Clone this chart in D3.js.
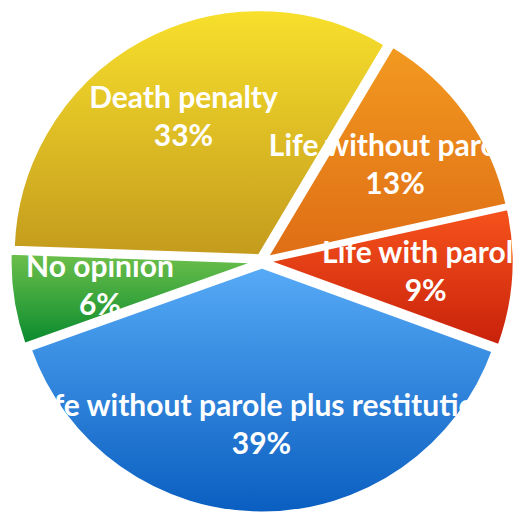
<!DOCTYPE html>
<html>
<head>
<meta charset="utf-8">
<script src="https://cdn.jsdelivr.net/npm/d3@7"></script>
<style>
  body { margin: 0; background: #fff; }
  svg { display: block; }
  .label { font-family: Lato, "Open Sans", sans-serif; font-weight: 700; fill: #fff; }
</style>
</head>
<body>
<svg></svg>
<script>
var categories = ["Death penalty", "Life without parole", "Life with parole",
                  "Life without parole plus restitution", "No opinion"];
var values = [33, 13, 9, 39, 6];
var topColors = ["#f8e02c", "#f29a20", "#f6531c", "#56aaf6", "#6dc04b"];
var bottomColors = ["#c49b1d", "#df6d15", "#c8210b", "#0a5ec0", "#088a2e"];

var width = 518, height = 512;
var cx = 262, cy = 261, radius = 246, explode = 6;

var svg = d3.select("svg")
    .attr("width", width)
    .attr("height", height);

var pie = d3.pie()
    .sort(null)
    .startAngle(-88 * Math.PI / 180)
    .endAngle(272 * Math.PI / 180)
    .value(function(d) { return d; });

var arc = d3.arc()
    .innerRadius(0)
    .outerRadius(radius);

var arcs = pie(values);

function midAngle(d) { return (d.startAngle + d.endAngle) / 2; }
function offset(d, r) {
    var a = midAngle(d);
    return [r * Math.sin(a), -r * Math.cos(a)];
}

var defs = svg.append("defs");

arcs.forEach(function(d, i) {
    var grad = defs.append("linearGradient")
        .attr("id", "grad" + i)
        .attr("x1", 0).attr("y1", 0)
        .attr("x2", 0).attr("y2", 1);
    grad.append("stop").attr("offset", "0%").attr("stop-color", topColors[i]);
    grad.append("stop").attr("offset", "100%").attr("stop-color", bottomColors[i]);
});

// labels get cut off at the outline of the pie
var clip = defs.append("clipPath").attr("id", "pieClip");
clip.selectAll("path")
    .data(arcs)
    .enter().append("path")
    .attr("transform", function(d) { return "translate(" + offset(d, explode) + ")"; })
    .attr("d", arc);

var g = svg.append("g")
    .attr("transform", "translate(" + cx + "," + cy + ")");

g.selectAll("path.slice")
    .data(arcs)
    .enter().append("path")
    .attr("class", "slice")
    .attr("transform", function(d) { return "translate(" + offset(d, explode) + ")"; })
    .attr("d", arc)
    .style("fill", function(d, i) { return "url(#grad" + i + ")"; })
    .style("stroke", "#fff")
    .style("stroke-width", 3)
    .style("stroke-linejoin", "round");

var labelRadius = 164;

var label = g.append("g")
    .attr("clip-path", "url(#pieClip)")
    .selectAll("text")
    .data(arcs)
    .enter().append("text")
    .attr("class", "label")
    .attr("text-anchor", "middle")
    .style("font-size", "30px")
    .attr("transform", function(d) { return "translate(" + offset(d, labelRadius) + ")"; });

label.append("tspan")
    .attr("x", 0)
    .attr("y", -9)
    .text(function(d, i) { return categories[i]; });

label.append("tspan")
    .attr("x", 0)
    .attr("y", 29)
    .text(function(d) { return d.value + "%"; });
</script>
</body>
</html>
